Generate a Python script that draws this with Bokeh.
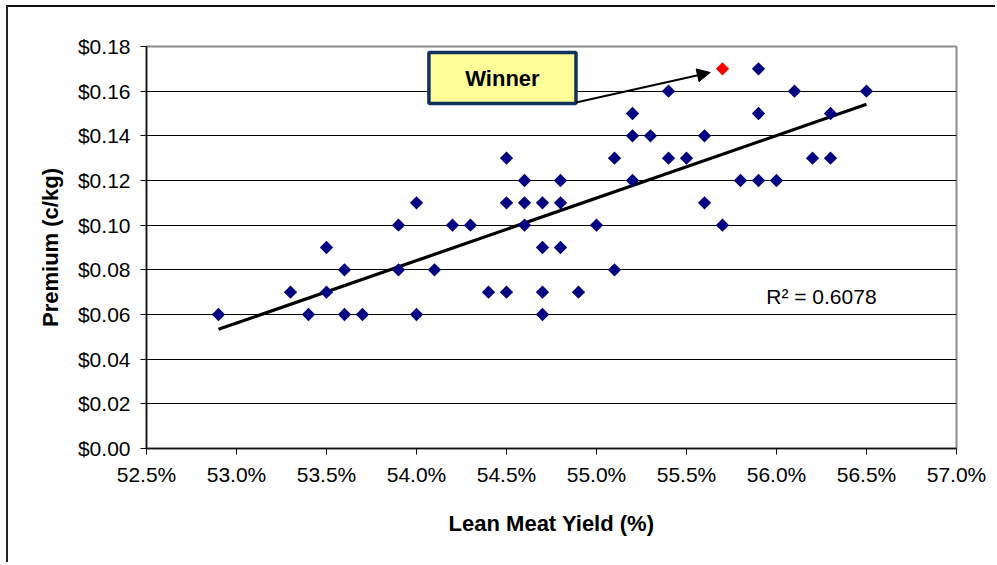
import numpy as np
from bokeh.plotting import figure
from bokeh.models import (ColumnDataSource, Range1d, FixedTicker, NumeralTickFormatter,
                          Label, BoxAnnotation, Arrow, NormalHead)
from bokeh.embed import file_html
from bokeh.resources import INLINE

# ---- data (lean meat yield in %, premium in $/kg) ----
lean_yield = [52.9, 53.3, 53.4, 53.5, 53.5, 53.6, 53.6, 53.7, 53.9, 53.9,
              54.0, 54.0, 54.1, 54.2, 54.3, 54.4, 54.5, 54.5, 54.5, 54.6,
              54.6, 54.6, 54.7, 54.7, 54.7, 54.7, 54.8, 54.8, 54.8, 54.9,
              55.0, 55.1, 55.1, 55.2, 55.2, 55.2, 55.3, 55.4, 55.4, 55.5,
              55.6, 55.6, 55.7, 55.8, 55.9, 55.9, 55.9, 56.0, 56.1, 56.2,
              56.3, 56.3, 56.5]
premium = [0.06, 0.07, 0.06, 0.09, 0.07, 0.08, 0.06, 0.06, 0.10, 0.08,
           0.11, 0.06, 0.08, 0.10, 0.10, 0.07, 0.13, 0.11, 0.07, 0.12,
           0.11, 0.10, 0.11, 0.09, 0.07, 0.06, 0.12, 0.11, 0.09, 0.07,
           0.10, 0.13, 0.08, 0.15, 0.14, 0.12, 0.14, 0.16, 0.13, 0.13,
           0.14, 0.11, 0.10, 0.12, 0.17, 0.15, 0.12, 0.12, 0.16, 0.13,
           0.15, 0.13, 0.16]
winner_yield = [55.7]
winner_premium = [0.17]

x_tick_values = [52.5, 53.0, 53.5, 54.0, 54.5, 55.0, 55.5, 56.0, 56.5, 57.0]
y_tick_values = [0.00, 0.02, 0.04, 0.06, 0.08, 0.10, 0.12, 0.14, 0.16, 0.18]
r_squared_text = "R\u00b2 = 0.6078"
winner_text = "Winner"
x_title = "Lean Meat Yield (%)"
y_title = "Premium (c/kg)"

# ---- derived ----
xs = np.array(lean_yield) / 100.0
ys = np.array(premium)
wx = np.array(winner_yield) / 100.0
wy = np.array(winner_premium)
all_x = np.concatenate([xs, wx])
all_y = np.concatenate([ys, wy])
slope, intercept = np.polyfit(all_x, all_y, 1)
trend_x = np.array([all_x.min(), all_x.max()])
trend_y = slope * trend_x + intercept

FONT = "Liberation Sans"

p = figure(width=989, height=557, output_backend="svg", toolbar_location=None,
           x_range=Range1d(x_tick_values[0] / 100, x_tick_values[-1] / 100),
           y_range=Range1d(y_tick_values[0], y_tick_values[-1]),
           background_fill_color="white", border_fill_color="white")
p.min_border_left = 138
p.min_border_top = 39
p.min_border_right = 41
p.min_border_bottom = 116
p.styles = {"margin-left": "6px", "margin-top": "5px",
            "border-left": "2px solid #222", "border-top": "2px solid #111"}

p.outline_line_color = "#8c8c8c"
p.outline_line_width = 2

p.xgrid.visible = False
p.ygrid.grid_line_color = "black"
p.ygrid.grid_line_width = 1

p.xaxis.ticker = FixedTicker(ticks=[v / 100 for v in x_tick_values])
p.yaxis.ticker = FixedTicker(ticks=y_tick_values)
p.xaxis.formatter = NumeralTickFormatter(format="0.0%")
p.yaxis.formatter = NumeralTickFormatter(format="$0.00")

for ax in p.axis:
    ax.axis_line_color = "#111"
    ax.axis_line_width = 1.5
    ax.major_tick_line_color = "#111"
    ax.major_tick_in = 0
    ax.minor_tick_line_color = None
    ax.major_label_text_font = FONT
    ax.major_label_text_font_size = "21px"
    ax.major_label_text_color = "black"
    ax.axis_label_text_font = FONT
    ax.axis_label_text_font_style = "bold"
    ax.axis_label_text_font_size = "22px"
    ax.axis_label_text_color = "black"

p.xaxis.major_tick_out = 6
p.yaxis.major_tick_out = 6
p.xaxis.major_label_standoff = 8
p.yaxis.major_label_standoff = 10
p.xaxis.axis_label = x_title
p.yaxis.axis_label = y_title
p.xaxis.axis_label_standoff = 22
p.yaxis.axis_label_standoff = 12

# trendline
p.line(trend_x, trend_y, line_color="black", line_width=3.2)

# points
src = ColumnDataSource(dict(x=xs, y=ys))
p.scatter("x", "y", source=src, marker="square", angle=np.pi / 4, size=9.4,
          fill_color="#000080", line_color=None)
wsrc = ColumnDataSource(dict(x=wx, y=wy))
p.scatter("x", "y", source=wsrc, marker="square", angle=np.pi / 4, size=9.4,
          fill_color="#ff0000", line_color=None)

# Winner callout (annotation, positioned relative to the winner point)
box_left, box_right = wx[0] - 0.01631, wx[0] - 0.00814
box_bottom, box_top = wy[0] - 0.01553, wy[0] + 0.00731
p.add_layout(BoxAnnotation(left=box_left, right=box_right, bottom=box_bottom, top=box_top,
                           fill_color="#FFFF99", fill_alpha=1.0,
                           line_color="#12325e", line_width=3.5, line_alpha=1.0))
p.add_layout(Label(x=(box_left + box_right) / 2, y=(box_bottom + box_top) / 2,
                   text=winner_text, text_align="center", text_baseline="middle",
                   text_font=FONT, text_font_style="bold", text_font_size="22px",
                   text_color="black"))
p.add_layout(Arrow(end=NormalHead(size=13, fill_color="black", line_color="black"),
                   x_start=box_right, y_start=box_bottom + 0.0005,
                   x_end=wx[0] - 0.00068, y_end=wy[0] - 0.00164,
                   line_color="black", line_width=2))

# R^2 label
p.add_layout(Label(x=0.55943, y=0.0680, text=r_squared_text, text_align="left",
                   text_baseline="alphabetic", text_font=FONT, text_font_size="21px",
                   text_color="black"))

open("out.html", "w").write(file_html(p, INLINE))
